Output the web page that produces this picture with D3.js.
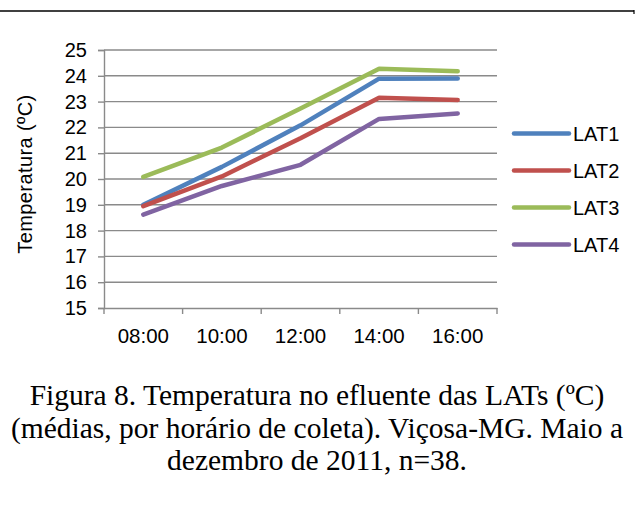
<!DOCTYPE html>
<html>
<head>
<meta charset="utf-8">
<script src="https://cdn.jsdelivr.net/npm/d3@7"></script>
<style>
  body { margin: 0; background: #fff; }
  svg { display: block; }
</style>
</head>
<body>
<div id="chart"></div>
<script>
var hours = ["08:00", "10:00", "12:00", "14:00", "16:00"];
var seriesNames = ["LAT1", "LAT2", "LAT3", "LAT4"];
var lat1 = [19.0, 20.47, 22.08, 23.89, 23.9];
var lat2 = [18.95, 20.1, 21.58, 23.15, 23.06];
var lat3 = [20.08, 21.22, 22.73, 24.27, 24.18];
var lat4 = [18.62, 19.73, 20.55, 22.33, 22.54];
var yTicks = [15, 16, 17, 18, 19, 20, 21, 22, 23, 24, 25];
var colors = ["#4F81BD", "#C0504D", "#9BBB59", "#8064A2"];
var captionLines = [
    "Figura 8. Temperatura no efluente das LATs (\u00baC)",
    "(m\u00e9dias, por hor\u00e1rio de coleta). Vi\u00e7osa-MG. Maio a",
    "dezembro de 2011, n=38."
];

var allSeries = [lat1, lat2, lat3, lat4];
var sansFont = "Liberation Sans, Arial, sans-serif";

var svg = d3.select("#chart").append("svg")
    .attr("width", 635)
    .attr("height", 509);

// top rule
svg.append("line")
    .attr("x1", 0).attr("x2", 634)
    .attr("y1", 11).attr("y2", 11)
    .attr("stroke", "#000").attr("stroke-width", 1.4);
svg.append("line")
    .attr("x1", 634).attr("x2", 634)
    .attr("y1", 10).attr("y2", 14)
    .attr("stroke", "#000").attr("stroke-width", 1.2);

var plotLeft = 104, plotRight = 497, plotTop = 50, plotBottom = 308;

var x = d3.scaleBand().domain(hours).range([plotLeft, plotRight]);
var y = d3.scaleLinear().domain([15, 25]).range([plotBottom, plotTop]);

// gridlines
svg.append("g")
    .selectAll("line")
    .data(yTicks.slice(1))
    .enter().append("line")
    .attr("x1", plotLeft).attr("x2", plotRight)
    .attr("y1", function (d) { return y(d); })
    .attr("y2", function (d) { return y(d); })
    .attr("stroke", "#8a8a8a")
    .attr("stroke-width", 1.4);

// y axis
var yAxis = svg.append("g")
    .attr("transform", "translate(" + plotLeft + ",0)")
    .call(d3.axisLeft(y).tickValues(yTicks).tickSize(6).tickPadding(11).tickFormat(d3.format("d")));
yAxis.select(".domain").attr("stroke", "#8a8a8a").attr("stroke-width", 1.4);
yAxis.selectAll(".tick line").attr("stroke", "#8a8a8a").attr("stroke-width", 1.4);
yAxis.selectAll("text")
    .attr("font-family", sansFont)
    .attr("font-size", 20)
    .attr("fill", "#000");

// x axis
var xAxis = svg.append("g")
    .attr("transform", "translate(0," + plotBottom + ")")
    .call(d3.axisBottom(x).tickSize(0).tickPadding(20));
xAxis.select(".domain").attr("stroke", "#8a8a8a").attr("stroke-width", 1.4);
xAxis.selectAll("text")
    .attr("font-family", sansFont)
    .attr("font-size", 20.5)
    .attr("fill", "#000");
// category boundary ticks
var bounds = hours.map(function (h) { return x(h); }).concat([plotRight]);
svg.append("g")
    .selectAll("line")
    .data(bounds)
    .enter().append("line")
    .attr("x1", function (d) { return d; })
    .attr("x2", function (d) { return d; })
    .attr("y1", plotBottom).attr("y2", plotBottom + 6)
    .attr("stroke", "#8a8a8a")
    .attr("stroke-width", 1.4);

// y label
svg.append("text")
    .attr("transform", "translate(32,174) rotate(-90)")
    .attr("text-anchor", "middle")
    .attr("font-family", sansFont)
    .attr("font-size", 20)
    .attr("letter-spacing", 0.4)
    .text("Temperatura  (\u00baC)");

// lines
var line = d3.line()
    .x(function (d, i) { return x(hours[i]) + x.bandwidth() / 2; })
    .y(function (d) { return y(d); });

svg.append("g")
    .selectAll("path")
    .data(allSeries)
    .enter().append("path")
    .attr("d", function (d) { return line(d); })
    .attr("fill", "none")
    .attr("stroke", function (d, i) { return colors[i]; })
    .attr("stroke-width", 4.5)
    .attr("stroke-linecap", "round")
    .attr("stroke-linejoin", "round");

// legend
var legend = svg.append("g")
    .selectAll("g")
    .data(seriesNames)
    .enter().append("g")
    .attr("transform", function (d, i) { return "translate(514," + (133.5 + i * 37) + ")"; });
legend.append("line")
    .attr("x1", 0).attr("x2", 55)
    .attr("stroke", function (d, i) { return colors[i]; })
    .attr("stroke-width", 4.5)
    .attr("stroke-linecap", "round");
legend.append("text")
    .attr("x", 59)
    .attr("dy", "0.36em")
    .attr("font-family", sansFont)
    .attr("font-size", 20)
    .text(function (d) { return d; });

// caption
svg.append("g")
    .selectAll("text")
    .data(captionLines)
    .enter().append("text")
    .attr("x", 317)
    .attr("y", function (d, i) { return 405 + i * 32.5; })
    .attr("text-anchor", "middle")
    .attr("font-family", "Liberation Serif, Times New Roman, serif")
    .attr("font-size", 29.5)
    .text(function (d) { return d; });
</script>
</body>
</html>
